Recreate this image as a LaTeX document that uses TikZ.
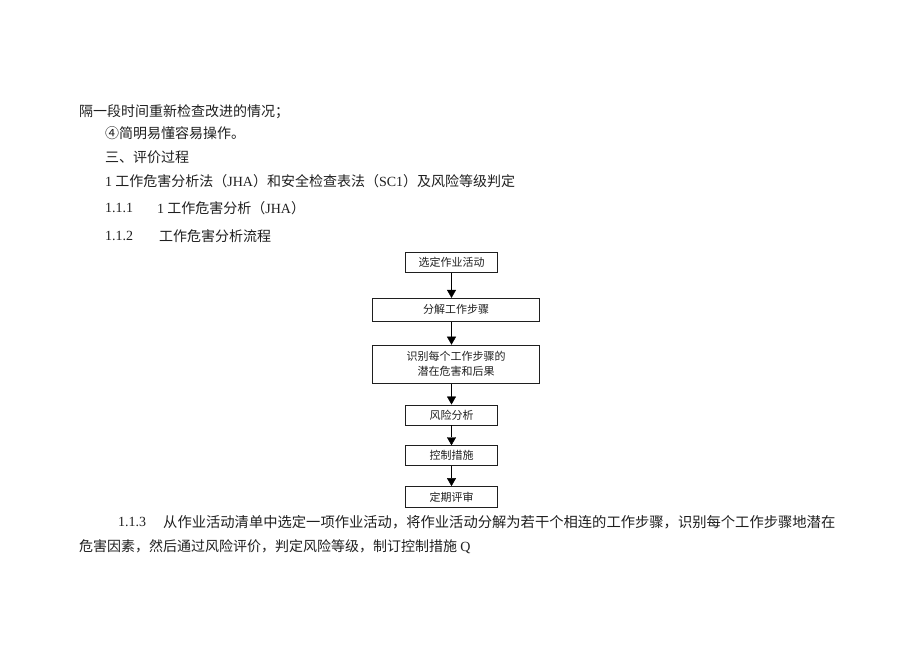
\documentclass[tikz,border=0pt]{standalone}
\usepackage{fontspec}
\setmainfont{Liberation Serif}
\newfontfamily\cjk{Noto Sans CJK SC}
\usepackage{tikz}
\usetikzlibrary{positioning,arrows.meta}
\definecolor{ink}{rgb}{0.12,0.12,0.12}
\tikzstyle{stepbox}=[%
      rectangle, draw=ink, line width=0.8pt, fill=none, text=ink,
      minimum height=20pt, minimum width=92pt, inner sep=2pt, align=center,
      font=\cjk\fontsize{11}{15}\selectfont
]
\tikzstyle{widebox}=[%
      stepbox, minimum width=167pt, minimum height=23pt
]
\tikzstyle{para}=[%
      anchor=west, inner sep=0pt, text=ink,
      font=\cjk\fontsize{14}{17}\selectfont
]
\newcommand{\lat}[1]{{\rmfamily #1}}

\begin{document}
\begin{tikzpicture}[x=1pt, y=-1pt,
    ->,
    >={Triangle[width=9pt,length=8pt]},
    node distance=22pt
  ]
    \useasboundingbox (0,0) rectangle (920,651);

    % text before the chart
    \node[para] (l1) at (79,112)  {隔一段时间重新检查改进的情况；};
    \node[para] (l2) at (105,133) {④简明易懂容易操作。};
    \node[para] (l3) at (105,157) {三、评价过程};
    \node[para] (l4) at (105,181) {\lat{1} 工作危害分析法（\lat{JHA}）和安全检查表法（\lat{SC1}）及风险等级判定};
    \node[para] (n1) at (105,208) {\lat{1.1.1}};
    \node[para] (l5) at (157,208) {\lat{1} 工作危害分析（\lat{JHA}）};
    \node[para] (n2) at (105,236) {\lat{1.1.2}};
    \node[para] (l6) at (159,236) {工作危害分析流程};

    % flow chart
    \node[stepbox]                           (select)   at (451.5,262.5) {选定作业活动};
    \node[widebox]                           (split)    [below=25pt of select, xshift=4.5pt] {分解工作步骤};
    \node[widebox, minimum height=38pt]      (identify) [below=23pt of split]    {识别每个工作步骤的\\潜在危害和后果};
    \node[stepbox]                           (risk)     [below=21pt of identify, xshift=-4.5pt] {风险分析};
    \node[stepbox]                           (control)  [below=20pt of risk]     {控制措施};
    \node[stepbox, minimum height=21pt]      (review)   [below=20pt of control]  {定期评审};

    \draw (select.south)                -- (select.south |- split.north);
    \draw (select.south |- split.south) -- (select.south |- identify.north);
    \draw (risk.north |- identify.south) -- (risk.north);
    \path (risk)    edge (control)
          (control) edge (review)
    ;

    % text after the chart
    \node[para] (n3) at (118,522) {\lat{1.1.3}};
    \node[para, font=\cjk\fontsize{14.3}{17}\selectfont] (l7) at (163,522) {从作业活动清单中选定一项作业活动，将作业活动分解为若干个相连的工作步骤，识别每个工作步骤地潜在};
    \node[para] (l8) at (79,547)  {危害因素，然后通过风险评价，判定风险等级，制订控制措施 \lat{Q}};

  \end{tikzpicture}
\end{document}
